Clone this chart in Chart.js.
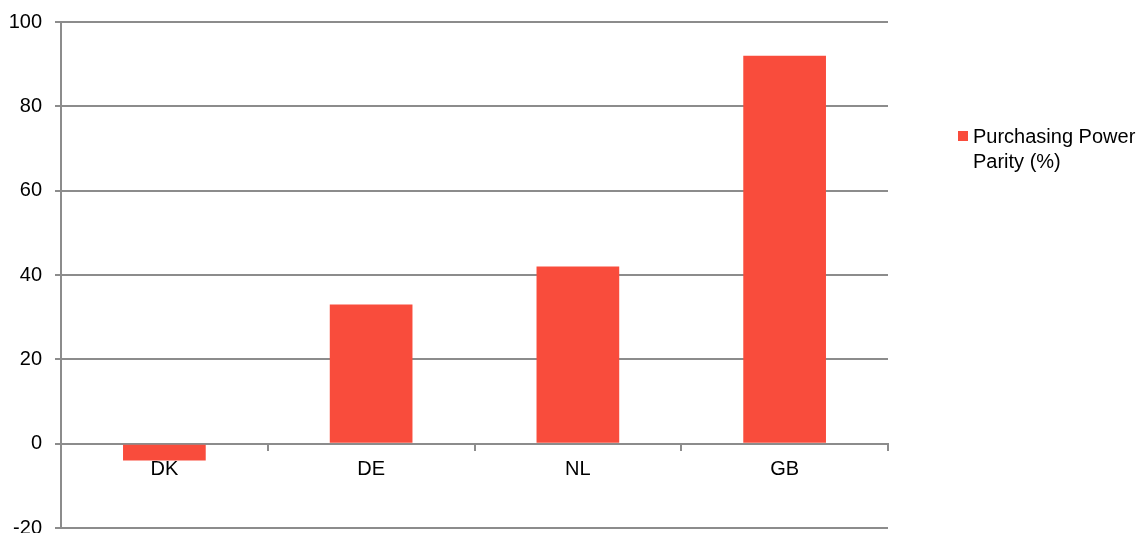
<!DOCTYPE html>
<html>
<head>
<meta charset="utf-8">
<script src="https://cdn.jsdelivr.net/npm/chart.js@4.4.1/dist/chart.umd.min.js"></script>
<style>
  html, body { margin: 0; padding: 0; background: #fff; overflow: hidden; }
  #wrap { position: relative; width: 1148px; height: 533px; overflow: hidden; }
  #plot { position: absolute; left: 0; top: -3px; width: 1148px; height: 556px; }
  #legend {
    position: absolute; left: 958px; top: 124px;
    font-family: 'Liberation Sans', Arial, sans-serif; font-size: 20px;
    line-height: 25px; color: #000;
  }
  #legend .box {
    display: inline-block; width: 10px; height: 10px; background: #F94C3C;
    margin-right: 5px; vertical-align: 2px;
  }
  #legend .line2 { padding-left: 15px; }
</style>
</head>
<body>
<div id="wrap">
  <div id="plot"><canvas id="chart"></canvas></div>
  <div id="legend"><span class="box"></span>Purchasing Power<div class="line2">Parity (%)</div></div>
</div>
<script>
// data
const countries = ['DK', 'DE', 'NL', 'GB'];
const pppValues = [-4, 33, 42, 92];
const seriesName = 'Purchasing Power Parity (%)';

const FONT = { family: "'Liberation Sans', Arial, sans-serif", size: 20 };
const GRID = '#8c8c8c';

const ctx = document.getElementById('chart').getContext('2d');
new Chart(ctx, {
    type: 'bar',
    data: {
        labels: countries,
        datasets: [{
            label: seriesName,
            data: pppValues,
            backgroundColor: '#F94C3C',
            borderWidth: 0,
            barPercentage: 0.4,
            categoryPercentage: 1.0
        }]
    },
    options: {
        responsive: true,
        maintainAspectRatio: false,
        animation: false,
        layout: { padding: { top: 5, right: 260, bottom: 0, left: 0 } },
        plugins: {
            legend: { display: false },
            tooltip: { enabled: false }
        },
        scales: {
            x: {
                position: { y: 0 },
                grid: {
                    offset: true,
                    drawOnChartArea: false,
                    drawTicks: true,
                    tickLength: 6,
                    color: GRID,
                    lineWidth: 2
                },
                border: { color: GRID, width: 2 },
                ticks: { color: '#000', font: FONT, padding: 8 }
            },
            y: {
                min: -20,
                max: 100,
                afterFit: (scale) => { scale.width = 61; },
                grid: { color: GRID, lineWidth: 2, tickLength: 6 },
                border: { color: GRID, width: 2 },
                ticks: { stepSize: 20, color: '#000', font: FONT, padding: 13 }
            }
        }
    }
});
</script>
</body>
</html>
